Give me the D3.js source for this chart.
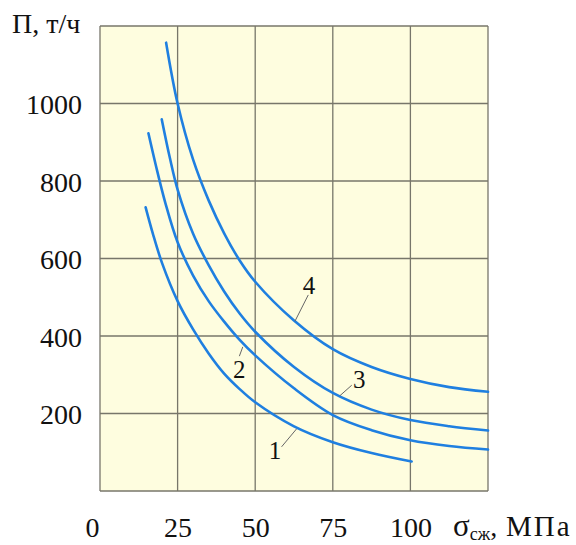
<!DOCTYPE html>
<html>
<head>
<meta charset="utf-8">
<script src="https://cdn.jsdelivr.net/npm/d3@7"></script>
<style>
  html, body { margin: 0; padding: 0; background: #fff; }
  svg { display: block; }
  text { font-family: "Liberation Serif", "DejaVu Serif", serif; fill: #111; }
</style>
</head>
<body>
<svg id="chart" width="576" height="545"></svg>
<script>
// ---- data ----
const xGrid = [0, 25, 50, 75, 100, 125];
const yGrid = [0, 200, 400, 600, 800, 1000, 1200];
const xTickValues = [0, 25, 50, 75, 100];
const yTickValues = [200, 400, 600, 800, 1000];

const curve1 = [[14.7,732],[17,665],[20,588],[25,490],[30,417],[35,355],[40,303],[45,263],[50,229],[62.5,167],[75,126],[87.5,98],[100.4,76]];
const curve2 = [[15.6,923],[18,840],[21,745],[25,642],[30,556],[35,490],[40,437],[45,390],[50,350],[62.5,265],[75,196],[87.5,157],[100,131],[112.5,116],[125,107]];
const curve3 = [[19.9,959],[22.5,860],[25,778],[30,664],[35,583],[40,515],[45,458],[50,411],[62.5,320],[75,253],[87.5,210],[100,183],[112.5,167],[125,156]];
const curve4 = [[21.3,1157],[25,1000],[30,855],[35,750],[40,665],[45,595],[50,540],[62.5,440],[75,366],[87.5,320],[100,289],[112.5,268],[125,256]];
const seriesList = [curve1, curve2, curve3, curve4];

const curveLabels = ["1", "2", "3", "4"];
// label centre and leader line endpoints, in data units
const labelPos   = [[56.4,106],[44.9,315],[83.5,289],[67.3,532]];
const leaderFrom = [[58.5,114],[44.9,348],[81.1,273],[67.1,506]];
const leaderTo   = [[63.3,160],[46.0,372],[77.3,246],[62.8,438]];

const yAxisTitle = "П, т/ч";
const xAxisSymbol = "σ";
const xAxisSub = "сж";
const xAxisComma = ",";
const xAxisUnit = "МПа";

// ---- layout ----
const svg = d3.select("#chart");
const padL = 100, padR = 488, padT = 26, padB = 491;
const x = d3.scaleLinear().domain([0, 125]).range([padL, padR]);
const y = d3.scaleLinear().domain([0, 1200]).range([padB, padT]);

// plot background
svg.append("rect")
  .attr("x", x(0)).attr("y", y(1200))
  .attr("width", x(125) - x(0)).attr("height", y(0) - y(1200))
  .attr("fill", "#fefddf");

// grid
const grid = svg.append("g").attr("stroke", "#77766a").attr("stroke-width", 1.3);
grid.selectAll("line.v").data(xGrid).join("line")
  .attr("class", "v")
  .attr("x1", d => x(d)).attr("x2", d => x(d))
  .attr("y1", y(0)).attr("y2", y(1200));
grid.selectAll("line.h").data(yGrid).join("line")
  .attr("class", "h")
  .attr("y1", d => y(d)).attr("y2", d => y(d))
  .attr("x1", x(0)).attr("x2", x(125));

// y axis tick labels
const yAxis = svg.append("g")
  .attr("transform", `translate(${x(0)},0)`)
  .call(d3.axisLeft(y).tickValues(yTickValues).tickSize(0).tickPadding(18).tickFormat(d3.format("d")));
yAxis.select(".domain").remove();
yAxis.selectAll("text")
  .attr("font-family", "Liberation Serif").attr("font-size", 28).attr("fill", "#111")
  .attr("dy", "0.36em");

// x axis tick labels
const xAxis = svg.append("g")
  .attr("transform", `translate(0,${y(0)})`)
  .call(d3.axisBottom(x).tickValues(xTickValues).tickSize(0).tickPadding(26).tickFormat(d3.format("d")));
xAxis.select(".domain").remove();
xAxis.selectAll("text")
  .attr("font-family", "Liberation Serif").attr("font-size", 28).attr("fill", "#111")
  .attr("dx", d => d === 0 ? -8 : 0);

// axis titles
svg.append("text").attr("x", 12).attr("y", 33)
  .attr("font-size", 28).text(yAxisTitle);

const xt = svg.append("text").attr("x", 453).attr("y", 536).attr("font-size", 28);
xt.append("tspan").attr("font-size", 31).text(xAxisSymbol);
xt.append("tspan").attr("font-size", 18).attr("dy", 4).text(xAxisSub);
xt.append("tspan").attr("dy", -4).text(xAxisComma);
xt.append("tspan").attr("x", 506).attr("font-size", 29).attr("letter-spacing", 2).text(xAxisUnit);

// curves
const line = d3.line()
  .x(d => x(d[0])).y(d => y(d[1]))
  .curve(d3.curveCatmullRom.alpha(0.5));
svg.append("g").selectAll("path").data(seriesList).join("path")
  .attr("d", line)
  .attr("fill", "none")
  .attr("stroke", "#1f7fe0")
  .attr("stroke-width", 2.6)
  .attr("stroke-linecap", "round");

// leaders
svg.append("g").selectAll("line").data(curveLabels).join("line")
  .attr("x1", (d, i) => x(leaderFrom[i][0])).attr("y1", (d, i) => y(leaderFrom[i][1]))
  .attr("x2", (d, i) => x(leaderTo[i][0])).attr("y2", (d, i) => y(leaderTo[i][1]))
  .attr("stroke", "#666").attr("stroke-width", 1);

// curve labels
svg.append("g").selectAll("text").data(curveLabels).join("text")
  .attr("x", (d, i) => x(labelPos[i][0]))
  .attr("y", (d, i) => y(labelPos[i][1]))
  .attr("text-anchor", "middle")
  .attr("dy", "0.35em")
  .attr("font-size", 25)
  .text(d => d);
</script>
</body>
</html>
